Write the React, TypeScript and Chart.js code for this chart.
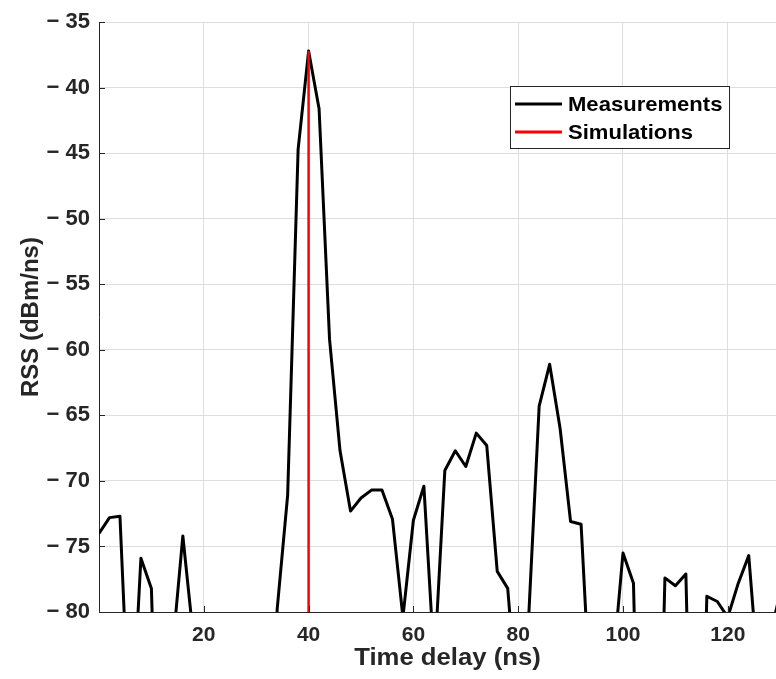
import React, { useEffect, useRef } from 'react';
import { Chart, registerables } from 'chart.js';

Chart.register(...registerables);

// Time delay (ns) of each measured sample
const timeDelay = [
  0, 2, 4, 6, 8, 10, 12, 14, 16, 18, 20, 22, 24, 26, 28, 30, 32, 34, 36, 38,
  40, 42, 44, 46, 48, 50, 52, 54, 56, 58, 60, 62, 64, 66, 68, 70, 72, 74, 76, 78,
  80, 82, 84, 86, 88, 90, 92, 94, 96, 98, 100, 102, 104, 106, 108, 110, 112, 114, 116, 118,
  120, 122, 124, 126, 128, 130,
];

// Measured RSS (dBm/ns)
const measuredRSS = [
  -74.0, -72.8, -72.7, -91.0, -75.9, -78.2, -105.0, -83.0, -74.2, -81.9,
  -95.0, -100.0, -98.0, -102.0, -97.0, -99.0, -110.0, -79.8, -71.1, -44.7,
  -37.2, -41.6, -59.2, -67.7, -72.3, -71.3, -70.7, -70.7, -72.9, -80.4,
  -73.0, -70.4, -84.0, -69.2, -67.7, -68.9, -66.35, -67.3, -76.9, -78.2,
  -88.0, -80.4, -64.3, -61.1, -66.0, -73.1, -73.3, -88.5, -96.0, -84.5,
  -75.5, -77.8, -110.0, -110.0, -77.4, -78.0, -77.1, -110.0, -78.8, -79.2,
  -80.4, -77.8, -75.7, -85.7, -82.0, -78.5,
];

// Simulated path (stem from the bottom of the axis)
const simDelay = [40];
const simRSS = [-37.2];

const xTicks = [20, 40, 60, 80, 100, 120];
const yTicks = [-80, -75, -70, -65, -60, -55, -50, -45, -40, -35];

const X_MIN = 0;
const X_MAX = 129.2;
const Y_MIN = -80;
const Y_MAX = -35;

const INK = '#262626';
const GRID = '#dedede';
const FONT = '"Liberation Sans", Arial, Helvetica, sans-serif';

const decorPlugin = {
  id: 'decor',
  afterDraw(chart: any) {
    const ctx = chart.ctx as CanvasRenderingContext2D;
    const area = chart.chartArea;
    const xs = chart.scales.x;
    const ys = chart.scales.y;
    ctx.save();
    // inward tick marks
    ctx.strokeStyle = INK;
    ctx.lineWidth = 1;
    ctx.beginPath();
    for (const v of xTicks) {
      const px = Math.round(xs.getPixelForValue(v)) + 0.5;
      ctx.moveTo(px, area.bottom);
      ctx.lineTo(px, area.bottom - 6);
    }
    for (const v of yTicks) {
      const py = Math.round(ys.getPixelForValue(v)) + 0.5;
      ctx.moveTo(area.left, py);
      ctx.lineTo(area.left + 6, py);
    }
    ctx.stroke();

    // axis titles
    ctx.fillStyle = INK;
    ctx.font = `bold 24px ${FONT}`;
    ctx.textAlign = 'center';
    ctx.textBaseline = 'alphabetic';
    ctx.save();
    ctx.translate(447.5, 665);
    ctx.scale(1.07, 1);
    ctx.fillText('Time delay (ns)', 0, 0);
    ctx.restore();
    ctx.save();
    ctx.translate(38, (area.top + area.bottom) / 2);
    ctx.rotate(-Math.PI / 2);
    ctx.fillText('RSS (dBm/ns)', 0, 0);
    ctx.restore();

    // legend
    const lx = 510.5, ly = 86.5, lw = 219, lh = 62;
    ctx.fillStyle = '#ffffff';
    ctx.fillRect(lx, ly, lw, lh);
    ctx.strokeStyle = INK;
    ctx.lineWidth = 1;
    ctx.strokeRect(lx, ly, lw, lh);
    const entries = [
      { label: 'Measurements', color: '#000000', y: 104 },
      { label: 'Simulations', color: '#ff0000', y: 132 },
    ];
    ctx.font = `bold 21px ${FONT}`;
    ctx.textAlign = 'left';
    ctx.textBaseline = 'middle';
    for (const e of entries) {
      ctx.strokeStyle = e.color;
      ctx.lineWidth = 3;
      ctx.beginPath();
      ctx.moveTo(515, e.y);
      ctx.lineTo(562, e.y);
      ctx.stroke();
      ctx.fillStyle = '#000000';
      ctx.save();
      ctx.translate(568, e.y + 1);
      ctx.scale(1.05, 1);
      ctx.fillText(e.label, 0, 0);
      ctx.restore();
    }
    ctx.restore();
  },
};

export default function App() {
  const ref = useRef<HTMLCanvasElement>(null);

  useEffect(() => {
    document.body.style.margin = '0';
    document.body.style.overflow = 'hidden';
    const canvas = ref.current;
    if (!canvas) return;

    const simData: { x: number; y: number }[] = [];
    simDelay.forEach((x, i) => {
      simData.push({ x, y: Y_MIN });
      simData.push({ x, y: simRSS[i] });
    });

    const chart = new Chart(canvas, {
      type: 'line',
      data: {
        datasets: [
          {
            label: 'Simulations',
            data: simData,
            borderColor: '#ff0000',
            borderWidth: 2.5,
            pointRadius: 0,
            tension: 0,
          },
          {
            label: 'Measurements',
            data: timeDelay.map((x, i) => ({ x, y: measuredRSS[i] })),
            borderColor: '#000000',
            borderWidth: 3,
            borderJoinStyle: 'round',
            pointRadius: 0,
            tension: 0,
          },
        ],
      },
      options: {
        animation: false,
        responsive: true,
        maintainAspectRatio: false,
        layout: { padding: { left: 0, right: 0, top: 19, bottom: 0 } },
        plugins: {
          legend: { display: false },
          tooltip: { enabled: false },
        },
        scales: {
          x: {
            type: 'linear',
            min: X_MIN,
            max: X_MAX,
            afterBuildTicks: (s: any) => {
              s.ticks = xTicks.map((v) => ({ value: v }));
            },
            afterFit: (s: any) => {
              s.height = 67;
            },
            grid: { color: GRID, drawTicks: false, lineWidth: 1 },
            border: { display: true, color: INK, width: 1 },
            ticks: {
              font: { family: FONT, size: 21, weight: 'bold' },
              color: INK,
              padding: 11,
              maxRotation: 0,
              autoSkip: false,
              callback: (v: any) => String(v),
            },
          },
          y: {
            type: 'linear',
            min: Y_MIN,
            max: Y_MAX,
            afterBuildTicks: (s: any) => {
              s.ticks = yTicks.map((v) => ({ value: v }));
            },
            afterFit: (s: any) => {
              s.width = 99;
            },
            grid: { color: GRID, drawTicks: false, lineWidth: 1 },
            border: { display: true, color: INK, width: 1 },
            ticks: {
              font: { family: FONT, size: 22, weight: 'bold' },
              color: INK,
              padding: 9,
              autoSkip: false,
              callback: (v: any) => '\u2212 ' + Math.abs(Number(v)),
            },
          },
        },
      },
      plugins: [decorPlugin],
    });

    return () => chart.destroy();
  }, []);

  return (
    <div style={{ position: 'fixed', left: 0, top: 0, width: 776, height: 679 }}>
      <canvas ref={ref} />
    </div>
  );
}
